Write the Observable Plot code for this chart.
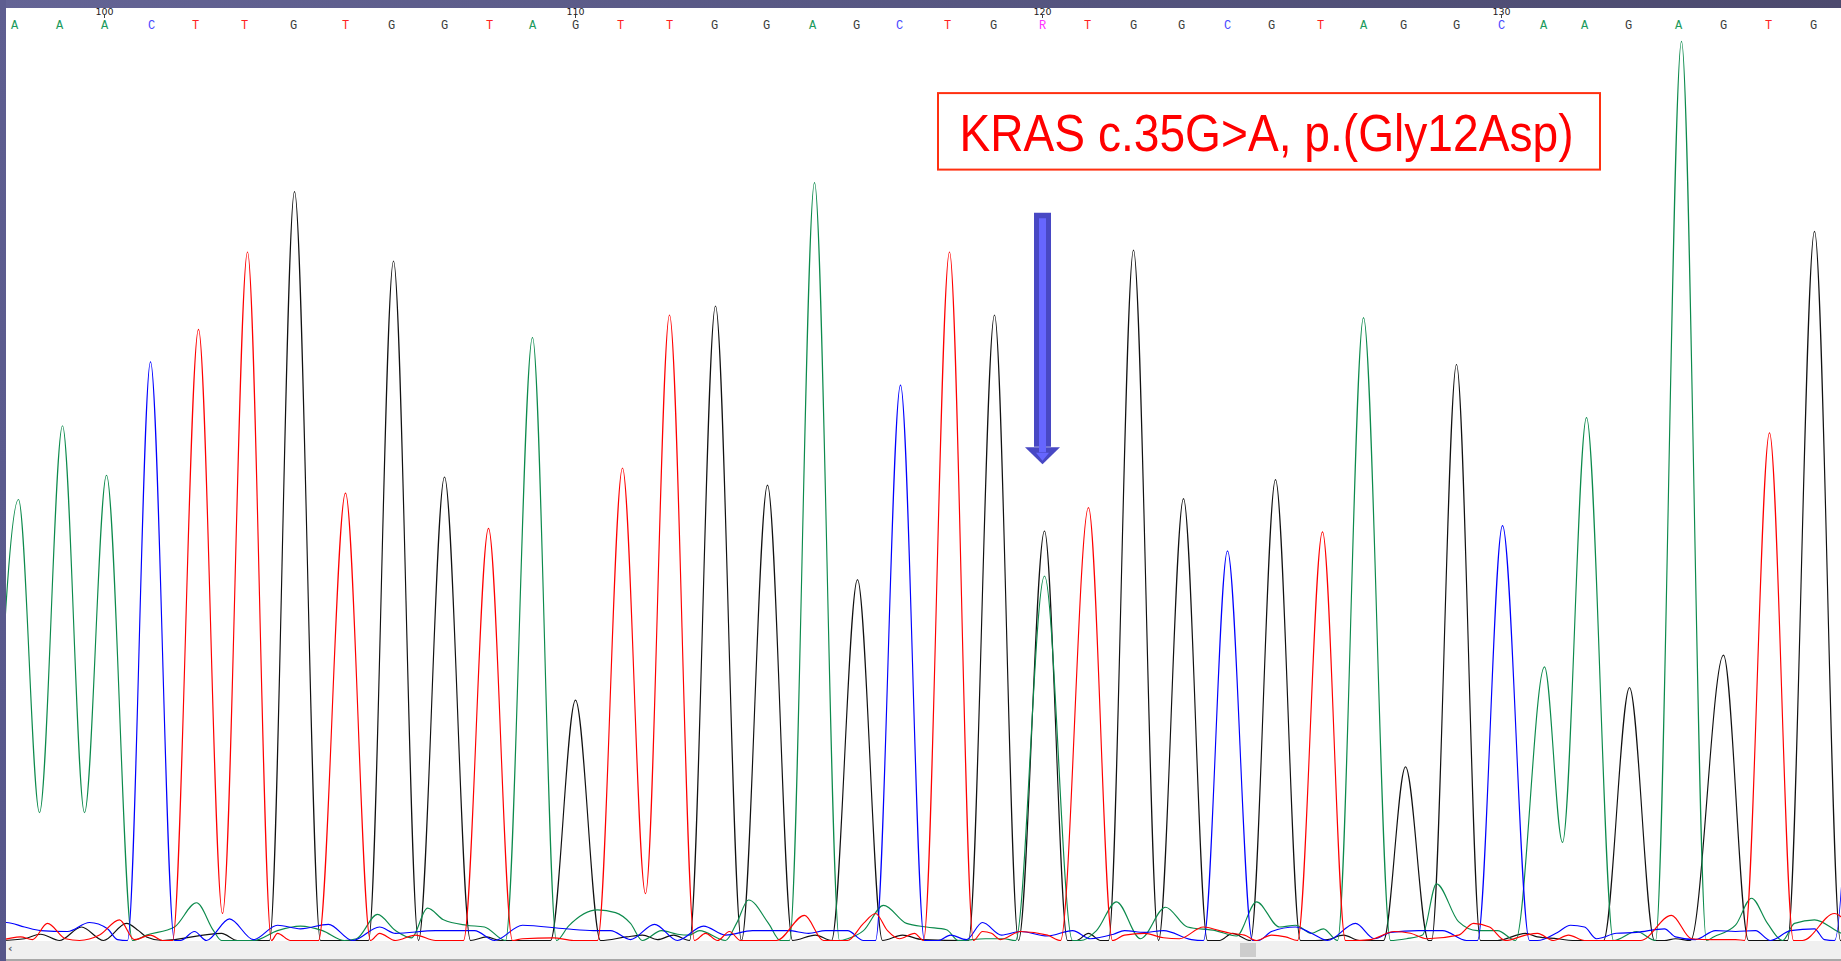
<!DOCTYPE html>
<html>
<head>
<meta charset="utf-8">
<script src="https://cdn.jsdelivr.net/npm/d3@7"></script>
<script src="https://cdn.jsdelivr.net/npm/@observablehq/plot@0.6"></script>
<style>
  html, body { margin: 0; padding: 0; background: #fff; overflow: hidden; }
  #wrap { position: relative; width: 1841px; height: 961px; overflow: hidden; }
  #chart { position: absolute; left: 0; top: 0; }
  .topbar { position: absolute; left: 0; top: 0; width: 1841px; height: 8px;
            background: linear-gradient(to right, #646495, #54547e 60%, #4c4a6e); }
  .leftbar { position: absolute; left: 0; top: 0; width: 6px; height: 961px;
             background: linear-gradient(to bottom, #5e5e90, #56568a); }
  .scroll { position: absolute; left: 6px; top: 941px; width: 1835px;
            background: #f0f0f0; border-bottom: 2px solid #a8a8a8; box-sizing: border-box; height: 20px; }
  .thumb { position: absolute; left: 1234px; top: 2px; width: 16px; height: 14px; background: #cdcdcd; }
  .lt { position: absolute; left: 2px; top: 1px; font: bold 11px "DejaVu Sans", sans-serif; color: #606060; }
</style>
</head>
<body>
<div id="wrap">
  <div id="chart"></div>
  <div class="topbar"></div>
  <div class="leftbar"></div>
  <div class="scroll"><span class="lt">&lsaquo;</span><div class="thumb"></div></div>
</div>
<script>
// ---- base calls (sequence row) ----
const baseLetters = "AAACTTGTGGTAGTTGGAGCTGRTGGCGTAGGCAAGAGTG".split("");
const basePositions = [14, 59, 104, 151, 195, 244, 293, 345, 391, 444, 489, 532, 575, 620, 669, 714, 766, 812, 856, 899,
                       947, 993, 1042, 1087, 1133, 1181, 1227, 1271, 1320, 1363, 1403, 1456, 1501, 1543, 1584, 1628, 1678, 1723, 1768, 1813];
const firstBaseNumber = 98;
const tickNumbers = [100, 110, 120, 130];

// ---- trace data: [scan, signal] ----
const traceA = [[-6,140],[18,490],[39,142],[62,572],[84,142],[106,517],[132,0],[146,6],[174,15],[196,42],[213,11],[221,0],
  [253,0],[277,11],[300,16],[322,11],[344,0],[356,2],[377,29],[395,11],[411,3],[427,36],[443,23],[466,17],[484,15],[505,0],
  [532,670],[556,0],[568,16],[597,34],[615,31],[630,19],[642,0],[661,11],[677,7],[689,6],[699,11],[725,0],[736,19],[748,45],
  [768,19],[780,0],[789,0],[814,842],[839,0],[847,2],[863,11],[883,39],[906,19],[926,15],[946,12],[958,0],[985,2],[1003,2],
  [1015,0],[1044,405],[1072,0],[1080,0],[1096,11],[1116,43],[1140,2],[1165,37],[1187,15],[1215,11],[1236,5],[1256,43],
  [1279,15],[1295,17],[1311,8],[1323,13],[1337,0],[1363,692],[1390,0],[1406,2],[1422,6],[1436,63],[1458,21],[1477,11],
  [1497,11],[1515,0],[1544,304],[1562,109],[1586,581],[1613,0],[1636,10],[1655,0],[1681,999],[1706,0],[1713,4],[1735,17],
  [1751,47],[1767,19],[1782,0],[1794,19],[1814,23],[1841,8],[1850,5]];

const traceC = [[0,20],[6,20],[24,15],[40,11],[67,10],[89,20],[107,13],[117,1],[127,0],[150,643],[174,0],[180,0],[194,10],
  [206,0],[229,24],[253,1],[277,17],[300,13],[328,18],[352,0],[379,15],[395,8],[435,11],[474,11],[494,0],[522,17],[565,13],
  [593,11],[610,11],[630,1],[654,18],[677,0],[703,16],[725,6],[752,11],[788,11],[808,8],[825,11],[847,11],[863,0],[875,0],
  [900,617],[924,0],[938,0],[950,6],[966,1],[982,20],[1001,6],[1020,10],[1047,5],[1072,11],[1090,2],[1113,7],[1124,11],
  [1144,9],[1163,11],[1191,1],[1203,0],[1227,433],[1252,0],[1258,0],[1271,10],[1295,15],[1311,8],[1327,0],[1355,19],
  [1374,2],[1390,9],[1418,11],[1442,11],[1466,0],[1477,0],[1502,461],[1529,0],[1537,0],[1557,9],[1570,17],[1584,15],
  [1596,2],[1616,8],[1636,9],[1664,13],[1675,4],[1695,1],[1715,11],[1735,10],[1755,11],[1770,0],[1790,11],[1814,13],
  [1824,1],[1834,0],[1862,700]];

const traceG = [[0,0],[24,2],[40,7],[59,0],[81,15],[103,0],[126,19],[138,11],[146,4],[162,0],[221,8],[237,0],[269,0],
  [294,832],[320,0],[340,0],[368,0],[393,755],[418,0],[444,515],[470,0],[486,4],[500,0],[550,0],[575,267],[600,0],[626,4],
  [642,6],[657,1],[673,6],[689,0],[715,705],[741,0],[767,506],[792,0],[815,6],[831,0],[857,401],[882,0],[902,6],[922,1],
  [968,0],[994,695],[1018,0],[1044,455],[1067,0],[1076,0],[1088,8],[1100,0],[1108,0],[1133,767],[1158,0],[1183,491],
  [1207,0],[1219,0],[1232,8],[1250,0],[1275,512],[1300,0],[1315,0],[1327,1],[1343,6],[1359,0],[1383,0],[1405,193],[1428,0],
  [1431,0],[1456,640],[1480,0],[1497,0],[1525,8],[1537,4],[1557,2],[1572,0],[1603,0],[1629,281],[1654,0],[1664,0],[1675,2],
  [1690,0],[1723,317],[1748,0],[1787,0],[1814,788],[1840,0],[1850,0]];

const traceT = [[0,0],[20,4],[32,1],[47,19],[65,2],[79,0],[99,6],[119,23],[134,1],[150,6],[162,0],[172,0],[198,679],
  [222,30],[247,765],[271,0],[277,8],[290,0],[318,0],[345,497],[370,0],[379,8],[395,0],[415,6],[435,0],[463,0],[488,458],
  [512,0],[522,2],[553,3],[573,0],[597,0],[622,525],[645,52],[669,695],[694,0],[705,8],[717,0],[729,10],[740,0],[776,0],
  [804,28],[823,0],[847,0],[863,19],[875,30],[887,11],[899,2],[914,8],[923,0],[949,765],[973,0],[982,10],[991,8],[1000,1],
  [1020,10],[1047,6],[1060,0],[1088,481],[1112,0],[1124,6],[1144,8],[1163,3],[1179,2],[1203,15],[1219,11],[1230,8],
  [1244,6],[1256,0],[1271,6],[1285,4],[1297,0],[1322,454],[1345,0],[1351,0],[1370,1],[1394,10],[1410,8],[1426,2],[1458,6],
  [1473,19],[1489,15],[1505,0],[1525,6],[1537,8],[1553,0],[1568,6],[1584,0],[1640,0],[1671,28],[1691,2],[1711,1],[1735,1],
  [1744,0],[1769,564],[1793,0],[1802,0],[1834,30],[1845,22]];

// ---- annotation (in scan / signal units) ----
const annotationLabel = ["KRAS c.35G>A, p.(Gly12Asp)"];
const annotationBox = [{x1: 938, x2: 1600, y1: 856, y2: 941}];
const annotationLabelPos = [{x: 1266, y: 896}];
const arrowBaseIndex = 22;
const arrowSpan = [{top: 808, head: 548, innerTop: 802, innerHead: 542}];

// ---- styling ----
const traceColors = {A: "#0c8a4c", C: "#0000ff", G: "#111111", T: "#ff0000"};
const letterColors = {A: "#1a9a5c", C: "#4a4aff", G: "#3a3a3a", T: "#ff2020", R: "#ff30ff"};

const bases = baseLetters.map((b, i) => ({letter: b, pos: basePositions[i]}));
const ticks = tickNumbers.map(n => ({label: String(n), pos: basePositions[n - firstBaseNumber]}));
const arrows = arrowSpan.map(a => ({...a, x: basePositions[arrowBaseIndex]}));
const labels = annotationLabelPos.map((p, i) => ({...p, text: annotationLabel[i]}));

function flatTriangle(w, h) {
  return {draw(ctx) { ctx.moveTo(-w / 2, 0); ctx.lineTo(w / 2, 0); ctx.lineTo(0, h); ctx.closePath(); }};
}

const traceMark = (data, key) => Plot.line(data, {
  x: d => d[0], y: d => d[1], stroke: traceColors[key], strokeWidth: 1.15,
  curve: "monotone-x", clip: true
});

const chart = Plot.plot({
  width: 1841, height: 961,
  marginTop: 0, marginRight: 0, marginBottom: 0, marginLeft: 0,
  x: {domain: [0, 1841], range: [0, 1841], axis: null},
  y: {domain: [0, 1000], range: [940, 40], axis: null},
  style: {background: "white"},
  marks: [
    traceMark(traceG, "G"),
    traceMark(traceA, "A"),
    traceMark(traceC, "C"),
    traceMark(traceT, "T"),
    // sequence letters
    Plot.text(bases, {x: "pos", text: "letter", frameAnchor: "top", dy: 25, lineAnchor: "middle",
      fill: d => letterColors[d.letter], fontFamily: "Liberation Mono, monospace", fontSize: 12}),
    // base numbers
    Plot.text(ticks, {x: "pos", text: "label", frameAnchor: "top", dy: 11, lineAnchor: "middle",
      fill: "#222", fontFamily: "DejaVu Sans, sans-serif", fontSize: 9.5}),
    Plot.ruleX(ticks, {x: "pos", insetTop: 15, insetBottom: 943, stroke: "#444", strokeWidth: 1}),
    // annotation box + label
    Plot.rect(annotationBox, {x1: "x1", x2: "x2", y1: "y1", y2: "y2", fill: "white", stroke: "#ff3010", strokeWidth: 2}),
    Plot.text(labels, {x: "x", y: "y", text: "text", fill: "#ff0000",
      fontFamily: "Liberation Sans, Arial, sans-serif", fontSize: 52, lineAnchor: "middle"}),
    // arrow
    Plot.ruleX(arrows, {x: "x", y1: "top", y2: "head", stroke: "#4848c4", strokeWidth: 17}),
    Plot.dot(arrows, {x: "x", y: "head", r: 5, symbol: flatTriangle(35, 17), fill: "#4848c4", stroke: "none"}),
    Plot.ruleX(arrows, {x: "x", y1: "innerTop", y2: "innerHead", stroke: "#6666ff", strokeWidth: 7}),
    Plot.dot(arrows, {x: "x", y: "innerHead", r: 3, symbol: flatTriangle(13, 8), fill: "#6666ff", stroke: "none"})
  ]
});
document.getElementById("chart").appendChild(chart);
chart.querySelectorAll("text").forEach(t => {
  if (t.textContent === annotationLabel[0]) {
    t.setAttribute("textLength", "614");
    t.setAttribute("lengthAdjust", "spacingAndGlyphs");
  }
});
</script>
</body>
</html>
